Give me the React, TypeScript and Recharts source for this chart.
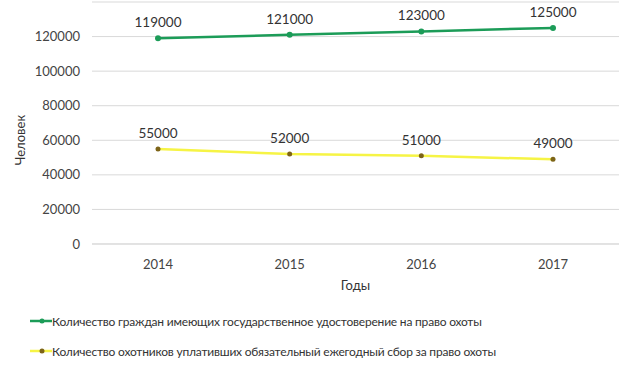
import React from 'react';
import { LineChart, Line, XAxis, YAxis, CartesianGrid, Legend, LabelList, Label } from 'recharts';

const years = ['2014', '2015', '2016', '2017'];
const licensed = [119000, 121000, 123000, 125000];
const paidFee = [55000, 52000, 51000, 49000];
const yTicks = [0, 20000, 40000, 60000, 80000, 100000, 120000];
const seriesNames = [
  'Количество граждан имеющих государственное удостоверение на право охоты',
  'Количество охотников уплативших обязательный ежегодный сбор за право охоты',
];

const data = years.map((y, i) => ({ year: y, licensed: licensed[i], paidFee: paidFee[i] }));

const GREEN = '#1c9c58';
const YELLOW = '#f6f445';
const BROWN = '#7d6418';
const FONT = 'Lato, "Open Sans", sans-serif';

const renderLegend = () => (
  <div style={{ fontFamily: FONT, fontSize: 12, color: '#333', letterSpacing: -0.2 }}>
    {[
      { name: seriesNames[0], color: GREEN, dot: GREEN },
      { name: seriesNames[1], color: YELLOW, dot: BROWN },
    ].map((s, i) => (
      <div key={i} style={{ display: 'flex', alignItems: 'center', height: 30, paddingLeft: 30 }}>
        <svg width={22} height={10}>
          <line x1={0} y1={5} x2={22} y2={5} stroke={s.color} strokeWidth={2.5} />
          <circle cx={12} cy={5} r={2.5} fill={s.dot} />
        </svg>
        <span>{s.name}</span>
      </div>
    ))}
  </div>
);

export default function App() {
  return (
    <div style={{ position: 'absolute', left: 0, top: 0, width: 620, height: 376, background: '#fff' }}>
      <LineChart width={620} height={376} data={data} margin={{ top: 2, right: 1, left: 0, bottom: 20 }}>
        <CartesianGrid vertical={false} stroke="#d9d9d9" />
        <XAxis
          dataKey="year"
          padding={{ left: 66, right: 66 }}
          axisLine={{ stroke: '#d9d9d9' }}
          tickLine={false}
          tickMargin={10}
          height={52}
          tick={{ fill: '#444', fontSize: 13, fontFamily: FONT }}
        >
          <Label value="Годы" position="insideBottom" offset={6} style={{ fill: '#333', fontSize: 13, fontFamily: FONT }} />
        </XAxis>
        <YAxis
          width={92}
          domain={[0, 140000]}
          ticks={yTicks}
          axisLine={false}
          tickLine={false}
          tickMargin={6}
          tick={{ fill: '#444', fontSize: 13, fontFamily: FONT }}
        >
          <Label
            content={(props: any) => {
              const vb = props.viewBox || {};
              const cx = 20;
              const cy = (vb.y || 0) + (vb.height || 0) / 2 + 17;
              return (
                <text x={cx} y={cy} transform={`rotate(-90, ${cx}, ${cy})`} textAnchor="middle" dominantBaseline="central" fill="#333" fontSize={13} fontFamily={FONT}>
                  Человек
                </text>
              );
            }}
          />
        </YAxis>
        <Legend verticalAlign="bottom" align="left" content={renderLegend} wrapperStyle={{ left: 0, bottom: 10 }} />
        <Line
          dataKey="licensed"
          name={seriesNames[0]}
          stroke={GREEN}
          strokeWidth={2.5}
          dot={{ r: 3, fill: GREEN, stroke: GREEN, strokeWidth: 0 }}
          isAnimationActive={false}
        >
          <LabelList dataKey="licensed" position="top" offset={11} style={{ fill: '#333', fontSize: 13.5, fontFamily: FONT }} />
        </Line>
        <Line
          dataKey="paidFee"
          name={seriesNames[1]}
          stroke={YELLOW}
          strokeWidth={2.5}
          dot={{ r: 2.5, fill: BROWN, stroke: BROWN, strokeWidth: 0 }}
          isAnimationActive={false}
        >
          <LabelList dataKey="paidFee" position="top" offset={11} style={{ fill: '#333', fontSize: 13.5, fontFamily: FONT }} />
        </Line>
      </LineChart>
    </div>
  );
}
